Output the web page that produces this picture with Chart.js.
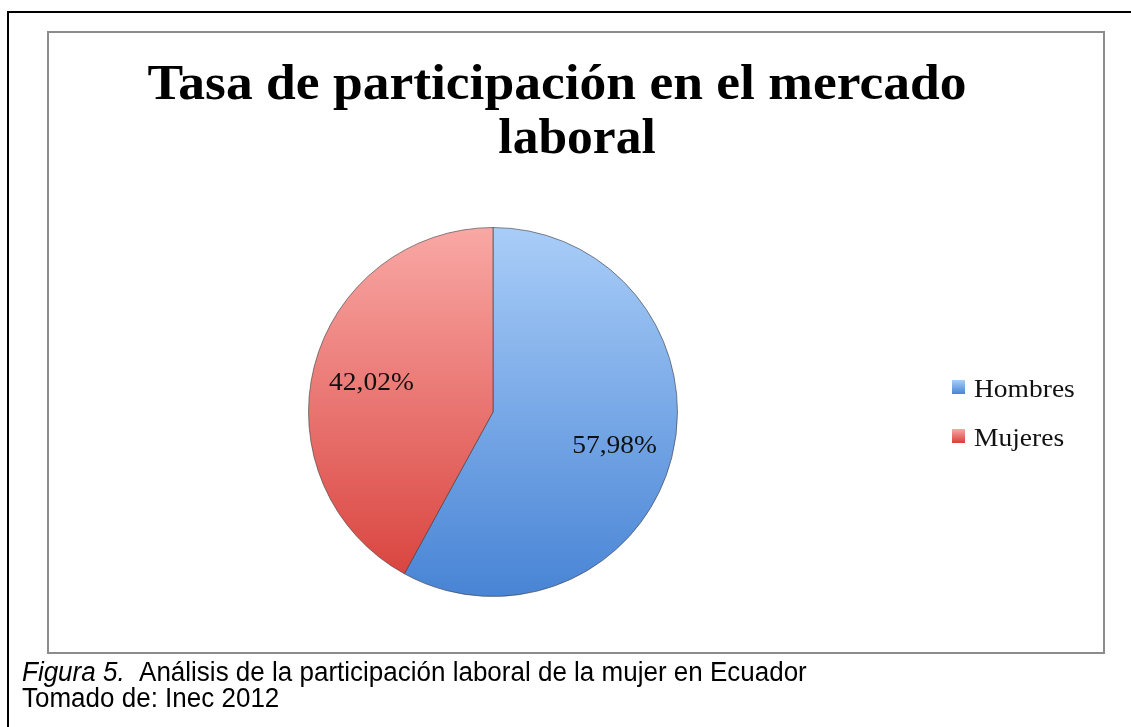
<!DOCTYPE html>
<html>
<head>
<meta charset="utf-8">
<script src="https://cdn.jsdelivr.net/npm/chart.js@4"></script>
<style>
html,body{margin:0;padding:0;background:#fff;}
#wrap{position:relative;width:1131px;height:727px;overflow:hidden;}
canvas{position:absolute;left:0;top:0;}
</style>
</head>
<body>
<div id="wrap"><canvas id="c" width="1131" height="727"></canvas></div>
<script>
const categories = ["Hombres", "Mujeres"];
const values = [57.98, 42.02];
const valueLabels = ["57,98%", "42,02%"];
const titleLines = ["Tasa de participación en el mercado", "laboral"];
const captionItalic = "Figura 5.";
const captionRest = "  Análisis de la participación laboral de la mujer en Ecuador";
const captionLine2 = "Tomado de: Inec 2012";

const topColors = ["#a9cdf8", "#f9a8a5"];
const bottomColors = ["#4884d5", "#d83f3a"];

function fillFor(ctx) {
  const chart = ctx.chart;
  const a = chart.chartArea;
  if (!a) return topColors[ctx.dataIndex];
  const g = chart.ctx.createLinearGradient(0, a.top, 0, a.bottom);
  g.addColorStop(0, topColors[ctx.dataIndex]);
  g.addColorStop(1, bottomColors[ctx.dataIndex]);
  return g;
}

function stretchedText(c, text, x, y, sx, sy) {
  c.save();
  c.translate(x, y);
  c.scale(sx, sy);
  c.fillText(text, 0, 0);
  c.restore();
}

const framePlugin = {
  id: 'frame',
  beforeDraw(chart) {
    const c = chart.ctx;
    c.save();
    c.fillStyle = '#fff';
    c.fillRect(0, 0, chart.width, chart.height);
    c.strokeStyle = '#000';
    c.lineWidth = 2;
    c.beginPath();
    c.moveTo(8, 727); c.lineTo(8, 12); c.lineTo(1131, 12);
    c.stroke();
    c.strokeStyle = '#8c8c8c';
    c.lineWidth = 2;
    c.strokeRect(48, 32, 1056, 621);
    c.restore();
  },
  afterDraw(chart) {
    const c = chart.ctx;
    c.save();
    // title
    c.fillStyle = '#000';
    c.textAlign = 'center';
    c.textBaseline = 'alphabetic';
    c.font = 'bold 50px "Liberation Serif", serif';
    stretchedText(c, titleLines[0], 557, 99, 1.07, 1);
    stretchedText(c, titleLines[1], 577, 153, 1.03, 1);
    // value labels
    const meta = chart.getDatasetMeta(0);
    c.font = '25px "Liberation Serif", serif';
    c.fillStyle = '#111';
    c.textBaseline = 'middle';
    meta.data.forEach((arc, i) => {
      const p = arc.getProps(['x','y','startAngle','endAngle','outerRadius'], true);
      const mid = (p.startAngle + p.endAngle) / 2;
      const d = p.outerRadius * 0.68;
      stretchedText(c, valueLabels[i], p.x + Math.cos(mid) * d, p.y + Math.sin(mid) * d + 3, 1.1, 1);
    });
    // legend
    c.textAlign = 'left';
    c.textBaseline = 'alphabetic';
    c.font = '25px "Liberation Serif", serif';
    categories.forEach((lab, i) => {
      const base = 397 + i * 49;
      const top = base - 17;
      const g = c.createLinearGradient(0, top, 0, top + 14);
      g.addColorStop(0, topColors[i]);
      g.addColorStop(1, bottomColors[i]);
      c.fillStyle = g;
      c.fillRect(952, top, 13, 14);
      c.fillStyle = '#111';
      stretchedText(c, lab, 974, base, 1.1, 1);
    });
    // caption
    c.fillStyle = '#000';
    c.font = 'italic 26px "Liberation Sans", Arial, sans-serif';
    stretchedText(c, captionItalic, 22, 681, 1, 1.05);
    const w = c.measureText(captionItalic).width;
    c.font = '26px "Liberation Sans", Arial, sans-serif';
    stretchedText(c, captionRest, 22 + w, 681, 1, 1.05);
    stretchedText(c, captionLine2, 22, 707, 1, 1.05);
    c.restore();
  }
};

new Chart(document.getElementById('c'), {
  type: 'pie',
  data: {
    labels: categories,
    datasets: [{
      data: values,
      backgroundColor: fillFor,
      borderColor: 'rgba(60,60,60,0.6)',
      borderWidth: 1
    }]
  },
  options: {
    responsive: false,
    animation: false,
    devicePixelRatio: 1,
    layout: { padding: { left: 308, right: 453, top: 227, bottom: 130 } },
    plugins: { legend: { display: false }, tooltip: { enabled: false }, title: { display: false } }
  },
  plugins: [framePlugin]
});
</script>
</body>
</html>
